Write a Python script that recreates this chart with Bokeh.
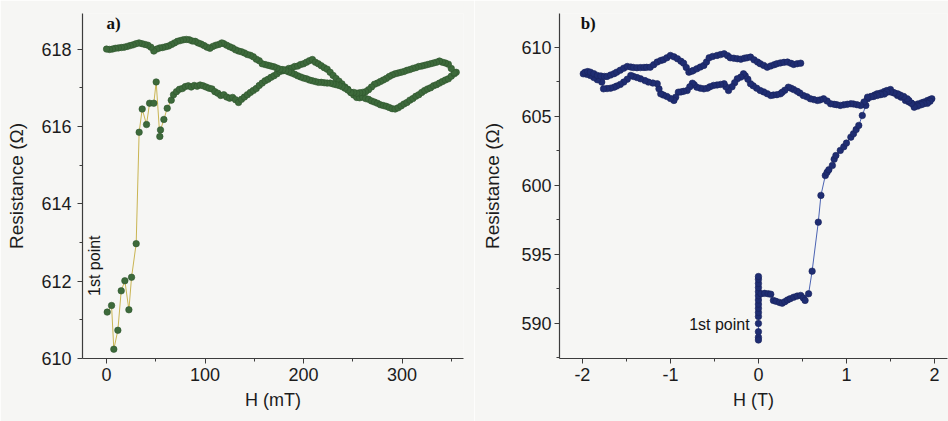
import math
from bokeh.plotting import figure
from bokeh.layouts import row
from bokeh.models import FixedTicker, Range1d, Label
from bokeh.embed import file_html
from bokeh.resources import INLINE

# ---------------- panel a: low-field sweep (mT) ----------------
# first scattered points after switching on
h_a_start = [0.7, 5.1, 7.4, 11.5, 14.9, 18.6, 22.7, 25.4, 30.1, 33.1, 36.2, 40.6,
             43.7, 48.0, 50.4, 54.1, 54.8, 58.2, 61.6, 65.7]
r_a_start = [611.20, 611.37, 610.24, 610.73, 611.75, 612.01, 611.26, 612.10, 612.97,
             615.85, 616.45, 616.05, 616.60, 616.60, 617.15, 615.74, 615.91, 616.18,
             616.47, 616.68]

# increasing field, 68 -> 355 mT
h_a_up = [68, 71, 74, 77, 80, 83, 86, 89, 92, 95, 98, 101, 104, 107, 110, 113, 116, 119,
          122, 125, 128, 131, 134, 137, 140, 143, 146, 149, 152, 155, 158, 161, 164, 167,
          170, 173, 176, 179, 182, 185, 188, 191, 194, 197, 200, 203, 206, 209, 212, 215,
          218, 221, 224, 227, 230, 233, 236, 239, 242, 245, 248, 251, 254, 257, 260, 263,
          266, 269, 272, 275, 278, 281, 284, 287, 290, 293, 296, 299, 302, 305, 308, 311,
          314, 317, 320, 323, 326, 329, 332, 335, 338, 341, 344, 347, 350, 353, 355]
r_a_up = [616.82, 616.90, 616.96, 616.98, 617.03, 617.05, 617.02, 617.06, 617.04, 617.07,
          617.05, 617.02, 616.99, 616.97, 616.90, 616.86, 616.80, 616.82, 616.76, 616.73,
          616.75, 616.69, 616.62, 616.70, 616.76, 616.82, 616.88, 616.93, 616.98, 617.06,
          617.12, 617.18, 617.22, 617.27, 617.31, 617.36, 617.42, 617.44, 617.46, 617.50,
          617.51, 617.55, 617.56, 617.60, 617.62, 617.66, 617.70, 617.73, 617.66, 617.62,
          617.57, 617.52, 617.48, 617.40, 617.32, 617.24, 617.17, 617.10, 617.02, 616.96,
          616.88, 616.81, 616.75, 616.74, 616.76, 616.72, 616.70, 616.66, 616.63, 616.60,
          616.56, 616.54, 616.52, 616.49, 616.46, 616.45, 616.48, 616.53, 616.58, 616.62,
          616.68, 616.72, 616.78, 616.82, 616.88, 616.93, 616.97, 617.00, 617.05, 617.08,
          617.12, 617.16, 617.20, 617.23, 617.30, 617.36, 617.40]

# decreasing field, 353 -> 0 mT
h_a_down = [353, 350, 347, 344, 341, 338, 335, 332, 329, 326, 323, 320, 317, 314, 311, 308,
            305, 302, 299, 296, 293, 290, 287, 284, 281, 278, 275, 272, 269, 266, 263, 260,
            257, 254, 251, 248, 245, 242, 239, 236, 233, 230, 227, 224, 221, 218, 215, 212,
            209, 206, 203, 200, 197, 194, 191, 188, 185, 182, 179, 176, 173, 170, 167, 164,
            161, 158, 155, 152, 149, 146, 143, 140, 137, 134, 131, 128, 125, 122, 119, 117,
            114, 111, 108, 105, 102, 99, 96, 93, 90, 87, 84, 81, 78, 75, 72, 69, 66, 63, 60,
            57, 54, 51, 48, 45, 42, 39, 36, 33, 30, 27, 24, 21, 18, 15, 12, 9, 6, 3, 0]
r_a_down = [617.39, 617.50, 617.61, 617.64, 617.66, 617.69, 617.66, 617.64, 617.62, 617.60,
            617.58, 617.56, 617.55, 617.52, 617.50, 617.47, 617.45, 617.42, 617.40, 617.38,
            617.36, 617.33, 617.29, 617.24, 617.20, 617.16, 617.12, 617.09, 617.02, 616.95,
            616.90, 616.88, 616.87, 616.86, 616.88, 616.88, 616.94, 616.99, 617.03, 617.06,
            617.08, 617.10, 617.12, 617.12, 617.13, 617.14, 617.14, 617.16, 617.18, 617.20,
            617.23, 617.25, 617.28, 617.31, 617.35, 617.38, 617.41, 617.44, 617.47, 617.48,
            617.51, 617.54, 617.56, 617.58, 617.60, 617.62, 617.70, 617.74, 617.80, 617.84,
            617.86, 617.90, 617.93, 617.95, 617.98, 618.03, 618.06, 618.10, 618.14, 618.16,
            618.12, 618.10, 618.07, 618.02, 618.05, 618.09, 618.13, 618.16, 618.20, 618.21,
            618.24, 618.25, 618.24, 618.22, 618.20, 618.16, 618.12, 618.08, 618.06, 618.04,
            618.03, 618.00, 617.95, 618.05, 618.10, 618.12, 618.14, 618.16, 618.14, 618.11,
            618.09, 618.07, 618.05, 618.04, 618.03, 618.02, 618.00, 617.99, 618.00]

h_a = h_a_start + h_a_up + h_a_down
r_a = r_a_start + r_a_up + r_a_down

# ---------------- panel b: high-field sweep (T) ----------------
h_b_start = [0.0] * 15 + [0.03, 0.07, 0.11, 0.14, 0.17, 0.20, 0.24, 0.27, 0.30, 0.33, 0.36,
             0.40, 0.44, 0.48, 0.51, 0.53, 0.57, 0.61, 0.68, 0.71, 0.76, 0.78, 0.80, 0.84,
             0.86, 0.88, 0.93, 0.97, 1.00, 1.05, 1.08, 1.11, 1.14, 1.18, 1.22, 1.24]
r_b_start = [589.0, 588.8, 589.4, 590.0, 590.5, 590.8, 591.1, 591.4, 591.7, 592.0, 592.3,
             592.6, 592.9, 593.2, 593.4,
             592.15, 592.18, 592.15, 592.12, 591.67, 591.60, 591.52, 591.47, 591.58, 591.70,
             591.79, 591.90, 591.98, 592.03, 591.85, 591.67, 592.15, 593.79, 597.34, 599.28,
             600.72, 600.95, 601.14, 601.45, 601.90, 602.17, 602.54, 602.80, 603.07, 603.50,
             603.75, 604.05, 604.35, 605.07, 605.80, 606.28]

h_b_top = [1.28, 1.32, 1.35, 1.39, 1.43, 1.46, 1.50, 1.54, 1.58, 1.62, 1.67, 1.71, 1.74,
           1.77, 1.81, 1.85, 1.88, 1.92, 1.95, 1.97]
r_b_top = [606.45, 606.55, 606.64, 606.70, 606.80, 606.88, 606.95, 606.70, 606.52, 606.40,
           606.16, 606.05, 605.95, 605.80, 605.90, 605.98, 606.04, 606.15, 606.22, 606.28]

# decreasing field, 2 -> -2 T
h_b_down = [1.95, 1.92, 1.88, 1.85, 1.81, 1.77, 1.74, 1.71, 1.69, 1.65, 1.61, 1.58, 1.54,
            1.50, 1.46, 1.43, 1.39, 1.35, 1.31, 1.28, 1.24, 1.20, 1.16, 1.12, 1.08, 1.05,
            1.01, 0.97, 0.93, 0.89, 0.86, 0.82, 0.78, 0.74, 0.70, 0.67, 0.63, 0.59, 0.55,
            0.51, 0.47, 0.44, 0.40, 0.37, 0.34, 0.30, 0.27, 0.25, 0.21, 0.17, 0.14, 0.10,
            0.06, 0.02, -0.02, -0.06, -0.09, -0.12, -0.15, -0.17, -0.20, -0.24, -0.27, -0.30,
            -0.34, -0.37, -0.39, -0.43, -0.47, -0.51, -0.55, -0.58, -0.62, -0.66, -0.70,
            -0.73, -0.75, -0.78, -0.81, -0.85, -0.88, -0.91, -0.94, -0.96, -1.00, -1.04,
            -1.08, -1.11, -1.13, -1.15, -1.20, -1.25, -1.29, -1.34, -1.38, -1.42, -1.45,
            -1.49, -1.53, -1.57, -1.61, -1.64, -1.68, -1.72, -1.76, -1.78, -1.83, -1.87,
            -1.91, -1.95, -1.99]
r_b_down = [606.10, 605.95, 605.92, 605.85, 605.75, 605.67, 605.95, 606.15, 606.28, 606.45,
            606.55, 606.64, 606.72, 606.78, 606.76, 606.62, 606.58, 606.52, 606.45, 606.42,
            606.40, 606.05, 605.80, 605.85, 605.90, 605.92, 605.88, 605.84, 605.80, 605.85,
            605.88, 605.92, 606.12, 606.28, 606.20, 606.16, 606.22, 606.28, 606.42, 606.52,
            606.70, 606.82, 606.95, 607.05, 607.12, 606.90, 606.75, 606.64, 606.58, 606.55,
            606.52, 606.65, 606.78, 606.88, 607.05, 607.22, 607.37, 607.70, 607.95, 608.09,
            607.85, 607.73, 607.45, 607.15, 606.88, 607.15, 607.37, 607.32, 607.28, 607.25,
            607.15, 607.05, 607.00, 607.05, 607.12, 607.30, 607.41, 607.15, 606.88, 606.82,
            606.78, 606.76, 606.40, 606.16, 606.30, 606.45, 606.55, 606.64, 607.00, 607.37,
            607.42, 607.49, 607.60, 607.73, 607.82, 607.90, 607.97, 607.70, 607.49, 607.32,
            607.20, 607.12, 607.05, 607.02, 607.00, 607.49, 607.66, 607.82, 607.97, 608.05,
            608.09]

# increasing field again, -2 -> 0.5 T
h_b_up = [-1.97, -1.94, -1.91, -1.87, -1.83, -1.79, -1.75, -1.72, -1.68, -1.64, -1.61,
          -1.57, -1.53, -1.49, -1.45, -1.42, -1.38, -1.34, -1.30, -1.27, -1.23, -1.19, -1.15,
          -1.11, -1.08, -1.04, -1.00, -0.96, -0.92, -0.88, -0.85, -0.82, -0.79, -0.76, -0.74,
          -0.70, -0.66, -0.62, -0.59, -0.56, -0.52, -0.47, -0.43, -0.39, -0.35, -0.32, -0.28,
          -0.24, -0.20, -0.16, -0.13, -0.09, -0.05, -0.01, 0.02, 0.06, 0.10, 0.14, 0.18, 0.21,
          0.25, 0.29, 0.33, 0.37, 0.40, 0.44, 0.48]
r_b_up = [608.20, 608.25, 608.21, 608.10, 607.97, 607.93, 607.90, 607.90, 608.00, 608.10,
          608.21, 608.35, 608.50, 608.62, 608.58, 608.55, 608.53, 608.54, 608.55, 608.56,
          608.57, 608.75, 608.94, 609.05, 609.11, 609.25, 609.42, 609.32, 609.18, 609.00,
          608.86, 608.55, 608.21, 608.27, 608.33, 608.45, 608.58, 608.70, 608.95, 609.25,
          609.35, 609.42, 609.48, 609.54, 609.40, 609.25, 609.22, 609.18, 609.15, 609.22,
          609.25, 609.30, 609.10, 608.94, 608.82, 608.70, 608.57, 608.66, 608.75, 608.82,
          608.88, 608.92, 608.94, 608.85, 608.77, 608.82, 608.86]

h_b = h_b_start + h_b_top + h_b_down + h_b_up
r_b = r_b_start + r_b_top + r_b_down + r_b_up

# tick positions and labels
xa_major, xa_minor = [0, 100, 200, 300], [-50, 50, 150, 250, 350]
ya_major, ya_minor = [610, 612, 614, 616, 618], [611, 613, 615, 617]
xb_major, xb_minor = [-2, -1, 0, 1, 2], [-1.5, -0.5, 0.5, 1.5]
xb_labels = ["-2", "-1", "0", "1", "2"]
yb_major, yb_minor = [590, 595, 600, 605, 610], [587.5, 592.5, 597.5, 602.5, 607.5]

BG = "#f6f6f4"
FONT = "Liberation Sans"


def make_fig(xr, yr, borders):
    left, right, top, bottom = borders
    p = figure(width=474, height=421, x_range=Range1d(*xr), y_range=Range1d(*yr),
               output_backend="svg", toolbar_location=None,
               min_border_left=left, min_border_right=right,
               min_border_top=top, min_border_bottom=bottom)
    p.background_fill_color = BG
    p.border_fill_color = BG
    p.outline_line_color = None
    p.xgrid.visible = False
    p.ygrid.visible = False
    for ax in (p.xaxis[0], p.yaxis[0]):
        ax.axis_line_color = "#3c3c3c"
        ax.axis_line_width = 1.2
        ax.major_tick_line_color = "#3c3c3c"
        ax.minor_tick_line_color = "#3c3c3c"
        ax.major_tick_out = 5
        ax.major_tick_in = 0
        ax.minor_tick_out = 3
        ax.minor_tick_in = 0
        ax.major_label_text_font = FONT
        ax.major_label_text_font_size = "18px"
        ax.major_label_text_color = "#1c1c1c"
        ax.axis_label_text_font = FONT
        ax.axis_label_text_font_style = "normal"
        ax.axis_label_text_font_size = "18px"
        ax.axis_label_text_color = "#1c1c1c"
    return p


# panel a
pa = make_fig((-24.4, 362.4), (610.0, 618.92), (82, 11, 12, 61))
pa.xaxis.ticker = FixedTicker(ticks=xa_major, minor_ticks=xa_minor)
pa.yaxis.ticker = FixedTicker(ticks=ya_major, minor_ticks=ya_minor)
pa.xaxis.axis_label = "H (mT)"
pa.yaxis.axis_label = "Resistance (Ω)"
pa.yaxis.axis_label_text_font_size = "19px"
pa.yaxis.major_label_standoff = 6
pa.yaxis.axis_label_standoff = 11
pa.xaxis.major_label_standoff = 4
pa.xaxis.axis_label_standoff = 6
pa.line(h_a, r_a, line_color="#c9b452", line_width=1)
pa.scatter(h_a, r_a, size=6.5, fill_color="#3d6a3b", line_color="#2f552e", line_width=0.6)
pa.add_layout(Label(x=0, y=618.9, text="a)", text_font="Liberation Serif",
                    text_font_style="bold", text_font_size="17px", text_color="#111111",
                    text_align="left", text_baseline="top"))
pa.add_layout(Label(x=-12.2, y=612.4, text="1st point", text_font=FONT,
                    text_font_size="16px", text_color="#151515", angle=math.pi / 2,
                    text_align="center", text_baseline="middle"))

# panel b
pb = make_fig((-2.26, 2.148), (587.46, 612.46), (85, 1, 13, 63))
pb.xaxis.ticker = FixedTicker(ticks=xb_major, minor_ticks=xb_minor)
pb.xaxis.major_label_overrides = {t: s for t, s in zip(xb_major, xb_labels)}
pb.yaxis.ticker = FixedTicker(ticks=yb_major, minor_ticks=yb_minor)
pb.xaxis.axis_label = "H (T)"
pb.yaxis.axis_label = "Resistance (Ω)"
pb.yaxis.axis_label_text_font_size = "19px"
pb.yaxis.major_label_standoff = 3
pb.yaxis.axis_label_standoff = 15
pb.xaxis.major_label_standoff = 4
pb.xaxis.axis_label_standoff = 6
pb.line(h_b, r_b, line_color="#4a62b2", line_width=1)
pb.scatter(h_b, r_b, size=6.5, fill_color="#1f2d72", line_color="#19245c", line_width=0.6)
pb.add_layout(Label(x=-2.02, y=612.4, text="b)", text_font="Liberation Serif",
                    text_font_style="bold", text_font_size="17px", text_color="#111111",
                    text_align="left", text_baseline="top"))
pb.add_layout(Label(x=-0.1, y=589.95, text="1st point", text_font=FONT,
                    text_font_size="16px", text_color="#151515",
                    text_align="right", text_baseline="middle"))

layout = row(pa, pb)
open("out.html", "w").write(file_html(layout, INLINE))
